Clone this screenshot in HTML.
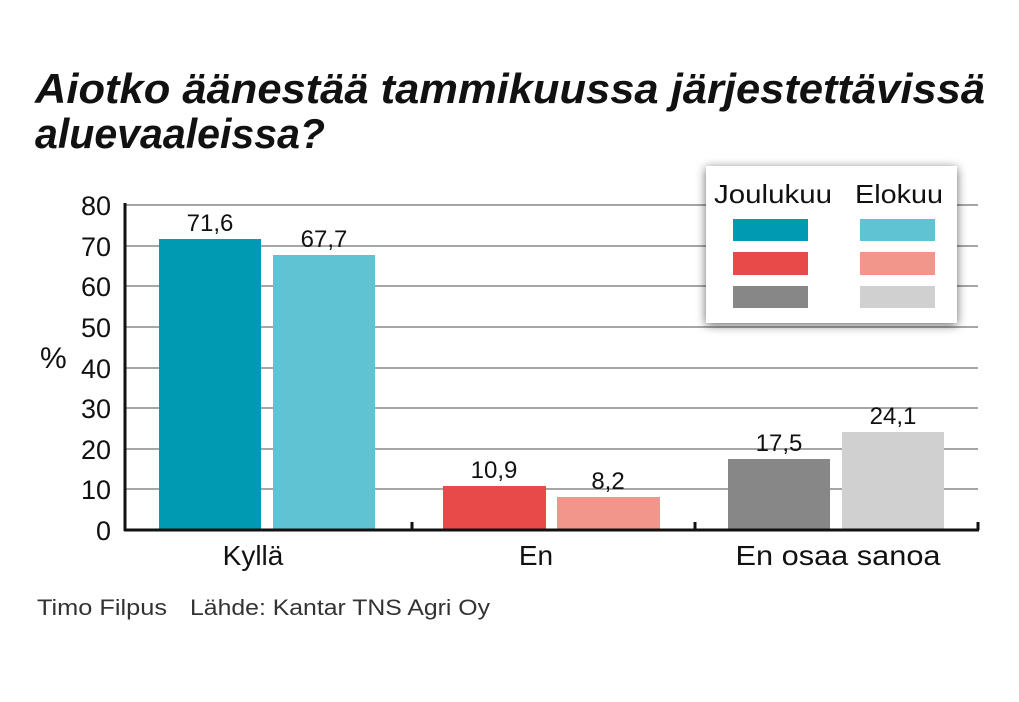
<!DOCTYPE html>
<html><head><meta charset="utf-8"><style>body{margin:0;background:#fff}svg{display:block}</style></head><body>
<svg width="1019" height="702" xmlns="http://www.w3.org/2000/svg" font-family="Liberation Sans, sans-serif">
<rect width="1019" height="702" fill="#fff"/>
<text x="35" y="103" font-size="42" font-weight="bold" font-style="italic" fill="#111" textLength="950" lengthAdjust="spacingAndGlyphs">Aiotko äänestää tammikuussa järjestettävissä</text>
<text x="35" y="148" font-size="42" font-weight="bold" font-style="italic" fill="#111" textLength="290" lengthAdjust="spacingAndGlyphs">aluevaaleissa?</text>
<g stroke="#888" stroke-width="1.5">
<line x1="125" x2="978" y1="205" y2="205"/><line x1="125" x2="978" y1="246" y2="246"/><line x1="125" x2="978" y1="286" y2="286"/><line x1="125" x2="978" y1="327" y2="327"/><line x1="125" x2="978" y1="368" y2="368"/><line x1="125" x2="978" y1="408" y2="408"/><line x1="125" x2="978" y1="449" y2="449"/><line x1="125" x2="978" y1="489" y2="489"/>
</g>
<rect x="159" y="239" width="102" height="291" fill="#009bb3"/>
<rect x="273" y="255" width="102" height="275" fill="#5fc3d3"/>
<rect x="443" y="486" width="103" height="44" fill="#e84a4a"/>
<rect x="557" y="497" width="103" height="33" fill="#f2958a"/>
<rect x="728" y="459" width="102" height="71" fill="#878787"/>
<rect x="842" y="432" width="102" height="98" fill="#d0d0d0"/>
<g stroke="#111" stroke-width="3"><line x1="125" y1="203" x2="125" y2="531"/><line x1="124" y1="530" x2="979" y2="530"/><line x1="412" y1="522" x2="412" y2="530"/><line x1="695" y1="522" x2="695" y2="530"/><line x1="978" y1="522" x2="978" y2="530"/></g>
<g font-size="27" fill="#111" text-anchor="end">
<text x="111" y="215">80</text><text x="111" y="256">70</text><text x="111" y="296">60</text><text x="111" y="337">50</text><text x="111" y="378">40</text><text x="111" y="418">30</text><text x="111" y="459">20</text><text x="111" y="499">10</text><text x="111" y="540">0</text>
</g>
<text x="40" y="368" font-size="30" fill="#111">%</text>
<g font-size="24" fill="#111" text-anchor="middle">
<text x="210" y="231">71,6</text><text x="324" y="247">67,7</text><text x="494" y="478">10,9</text><text x="608" y="489">8,2</text><text x="779" y="451">17,5</text><text x="893" y="424">24,1</text>
</g>
<g font-size="28" fill="#111" text-anchor="middle">
<text x="253" y="565">Kyllä</text><text x="536" y="565">En</text><text x="838" y="565" textLength="205" lengthAdjust="spacingAndGlyphs">En osaa sanoa</text>
</g>
<text x="37" y="615" font-size="22" fill="#333" textLength="130" lengthAdjust="spacingAndGlyphs">Timo Filpus</text>
<text x="190" y="615" font-size="22" fill="#333" textLength="300" lengthAdjust="spacingAndGlyphs">Lähde: Kantar TNS Agri Oy</text>
<rect x="706" y="166" width="251" height="157" fill="#fff" style="filter:drop-shadow(0 2px 5px rgba(0,0,0,0.6))"/>
<text x="714" y="203" font-size="26" fill="#111" textLength="118" lengthAdjust="spacingAndGlyphs">Joulukuu</text>
<text x="855" y="203" font-size="26" fill="#111" textLength="88" lengthAdjust="spacingAndGlyphs">Elokuu</text>
<rect x="733" y="219" width="75" height="22" fill="#009bb3"/><rect x="860" y="219" width="75" height="22" fill="#5fc3d3"/>
<rect x="733" y="252" width="75" height="23" fill="#e84a4a"/><rect x="860" y="252" width="75" height="23" fill="#f2958a"/>
<rect x="733" y="286" width="75" height="22" fill="#878787"/><rect x="860" y="286" width="75" height="22" fill="#d0d0d0"/>
</svg>
</body></html>
